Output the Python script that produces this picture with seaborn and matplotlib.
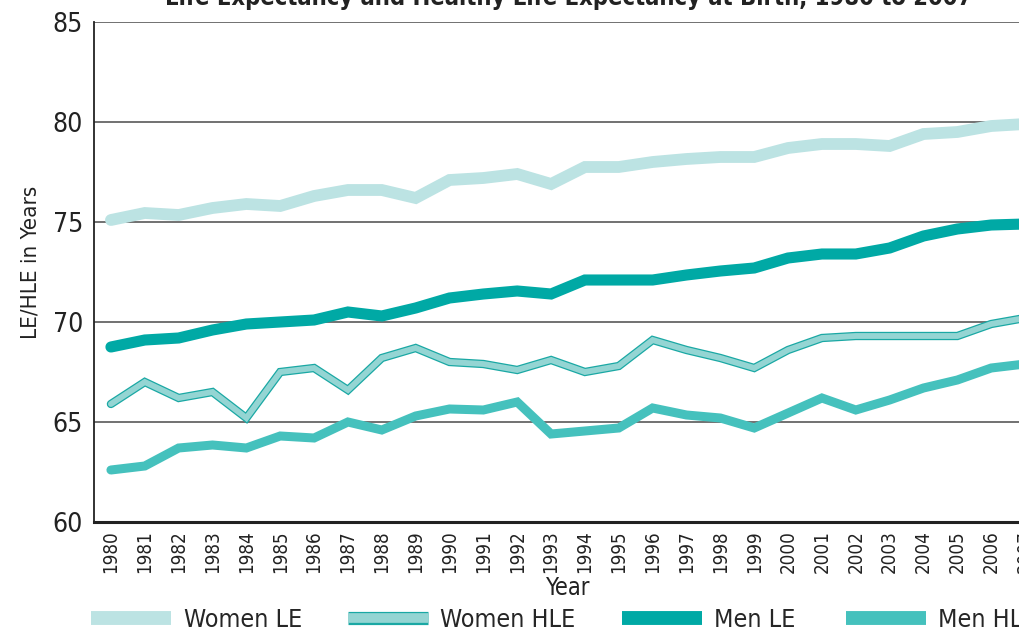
import numpy as np
import pandas as pd
import seaborn as sns
import matplotlib.pyplot as plt
import matplotlib.patheffects as pe
from matplotlib.lines import Line2D
from matplotlib.ticker import FixedLocator

# Data
years = list(range(1980, 2008))
women_le = [75.1, 75.45, 75.35, 75.7, 75.9, 75.8, 76.3, 76.6, 76.6, 76.2,
            77.1, 77.2, 77.4, 76.9, 77.75, 77.75, 78.0, 78.15, 78.25, 78.25,
            78.7, 78.9, 78.9, 78.8, 79.4, 79.5, 79.8, 79.9]
women_hle = [65.9, 67.0, 66.2, 66.5, 65.2, 67.5, 67.7, 66.6, 68.2, 68.7,
             68.0, 67.9, 67.6, 68.1, 67.5, 67.8, 69.1, 68.6, 68.2, 67.7,
             68.6, 69.2, 69.3, 69.3, 69.3, 69.3, 69.9, 70.2]
men_le = [68.75, 69.1, 69.2, 69.6, 69.9, 70.0, 70.1, 70.5, 70.3, 70.7,
          71.2, 71.4, 71.55, 71.4, 72.1, 72.1, 72.1, 72.35, 72.55, 72.7,
          73.2, 73.4, 73.4, 73.7, 74.3, 74.65, 74.85, 74.9]
men_hle = [62.6, 62.8, 63.7, 63.85, 63.7, 64.3, 64.2, 65.0, 64.6, 65.3,
           65.65, 65.6, 66.0, 64.4, 64.55, 64.7, 65.7, 65.35, 65.2, 64.7,
           65.45, 66.2, 65.6, 66.1, 66.7, 67.1, 67.7, 67.9]

series_names = ["Women LE", "Women HLE", "Men LE", "Men HLE"]
colors = {"Women LE": "#bce3e3", "Women HLE": "#94d5d3",
          "Men LE": "#00a9a5", "Men HLE": "#45c1bd"}
edge_hle = "#1aa8a4"

df = pd.DataFrame({"Year": years, "Women LE": women_le, "Women HLE": women_hle,
                   "Men LE": men_le, "Men HLE": men_hle})
long_df = df.melt(id_vars="Year", var_name="Series", value_name="Value")

sns.set_style("white")
plt.rcParams["font.family"] = ["Liberation Sans Narrow", "DejaVu Sans"]
plt.rcParams["font.stretch"] = "condensed"

fig = plt.figure(figsize=(10.2, 6.32), dpi=100)
ax = fig.add_axes([94 / 1020, 110 / 632, 948 / 1020, 500 / 632])

widths = {"Women LE": 8.5, "Women HLE": 4.2, "Men LE": 8.0, "Men HLE": 6.5}
outline = [pe.Stroke(linewidth=6.0, foreground=edge_hle), pe.Normal()]

for name in ["Women LE", "Men LE", "Women HLE", "Men HLE"]:
    sub = long_df[long_df["Series"] == name]
    sns.lineplot(data=sub, x="Year", y="Value", ax=ax, color=colors[name],
                 linewidth=widths[name], legend=False)
    line = ax.lines[-1]
    line.set_solid_joinstyle("miter")
    if name == "Women HLE":
        line.set_path_effects(outline)

ax.set_xlim(1979.5, 2007.5)
ax.set_ylim(60, 85)
ax.set_yticks([60, 65, 70, 75, 80, 85])
ax.set_xticks(years)
ax.set_xticklabels([str(y) for y in years], rotation=90, fontsize=13.5, color="#222222")
ax.xaxis.set_minor_locator(FixedLocator(np.arange(1980.5, 2007.5, 1)))
ax.tick_params(axis="x", which="major", length=0, pad=6)
ax.tick_params(axis="x", which="minor", direction="in", length=7, width=1.0, color="#333333")
ax.tick_params(axis="y", length=0, labelsize=19, pad=8, labelcolor="#222222")

for v in [65, 70, 75, 80, 85]:
    ax.axhline(v, color="#4a4a4a", linewidth=1.1, zorder=0)

for s in ["top", "right"]:
    ax.spines[s].set_visible(False)
ax.spines["left"].set_color("#222222")
ax.spines["left"].set_linewidth(1.3)
ax.spines["bottom"].set_color("#222222")
ax.spines["bottom"].set_linewidth(2.2)

ax.set_xlabel("Year", fontsize=17, color="#222222", labelpad=2)
ax.set_ylabel("LE/HLE in Years", fontsize=16, color="#222222")
ax.yaxis.set_label_coords(-54 / 948, 0.52)

fig.text(0.557, 1 - 5 / 632, "Life Expectancy and Healthy Life Expectancy at Birth, 1980 to 2007",
         ha="center", va="baseline", fontsize=17, fontweight="bold", color="#222222")

# legend entries placed one by one, as in the source layout
starts = [91, 348, 622, 846]
for name, x0 in zip(series_names, starts):
    if name == "Women HLE":
        h = Line2D([], [], color=colors[name], linewidth=7.0, solid_capstyle="butt",
                   path_effects=[pe.Stroke(linewidth=9.5, foreground=edge_hle, capstyle="butt"), pe.Normal()])
    else:
        h = Line2D([], [], color=colors[name], linewidth=10, solid_capstyle="butt")
    fig.legend([h], [name], loc="center left", bbox_to_anchor=(x0 / 1020, 12 / 632),
               frameon=False, fontsize=18, handlelength=80 / 25, handletextpad=0.5,
               borderaxespad=0, borderpad=0)

fig.savefig("out.png", dpi=100)
